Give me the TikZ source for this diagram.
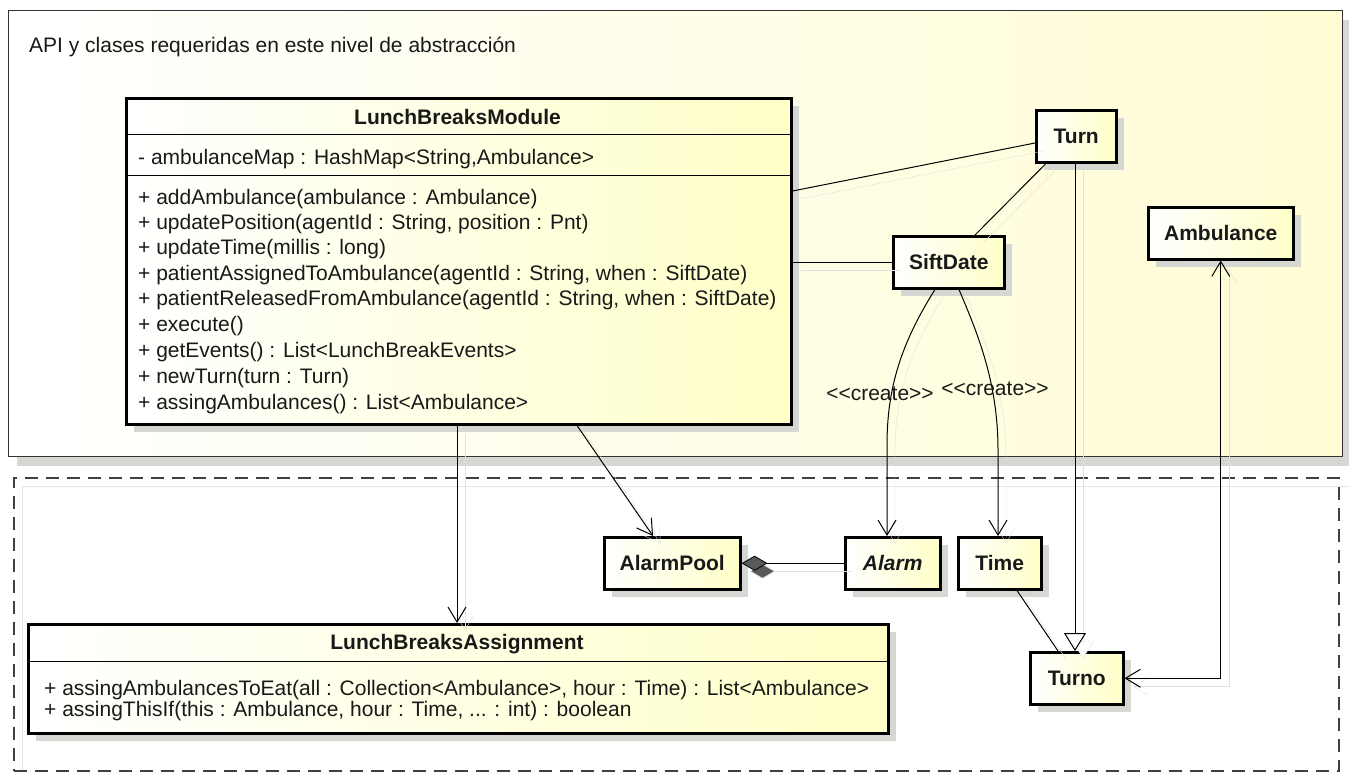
\documentclass[tikz,border=0pt]{standalone}
\usepackage{fontspec}
\setmainfont{Liberation Sans}
\usetikzlibrary{arrows.meta,shadows}
\definecolor{cream}{RGB}{255,255,200}
\definecolor{pkgcream}{RGB}{255,253,212}
\definecolor{txt}{RGB}{25,25,25}
\definecolor{shd}{RGB}{214,214,210}
\newcommand{\lgl}{<\kern0pt<}
\newcommand{\rgr}{>\kern0pt>}
\begin{document}
\begin{tikzpicture}[x=1pt,y=-1pt,
  every node/.style={font=\fontsize{21}{24}\selectfont, text=txt},
  classbox/.style={draw=black, line width=2.5pt, left color=white, right color=cream,
    general shadow={fill=shd, shadow xshift=8pt, shadow yshift=-8pt},
    anchor=north west, inner sep=0pt, font=\fontsize{21}{24}\selectfont\bfseries},
  ctitle/.style={inner sep=0pt, font=\fontsize{21}{24}\selectfont\bfseries},
  member/.style={anchor=base west, inner sep=0pt},
  conn/.style={draw=black, line width=1pt,
    preaction={draw=black!12, transform canvas={shift={(8pt,-8pt)}}}},
  nav/.style={-{Straight Barb[length=15pt,width=18pt,line width=1pt]}},
]
\useasboundingbox (0,0) rectangle (1349,771);
% package
\node[draw=black!80, line width=1.3pt, left color=white, right color=pkgcream,
  general shadow={fill=shd, shadow xshift=8pt, shadow yshift=-9pt},
  anchor=north west, minimum width=1334pt, minimum height=446pt, inner sep=0pt] (pkg) at (8,10) {};
\node[anchor=west, inner sep=0pt] (pkgT) at (29,47) {API y clases requeridas en este nivel de abstracción};
% lower frame
\draw[black!10, line width=1pt] (22,486) -- (1349,486);
\draw[black!10, line width=1pt] (22,486) -- (22,771);
\node[draw=black!75, dash pattern=on 13pt off 8pt, line width=1.5pt, anchor=north west,
  minimum width=1325pt, minimum height=293pt, inner sep=0pt] (lower) at (13,477) {};

% LunchBreaksModule
\node[classbox, minimum width=665pt, minimum height=326pt] (lbm) at (125,97) {};
\draw[line width=1pt] (lbm.west |- 0,134) -- (lbm.east |- 0,134);
\draw[line width=1pt] (lbm.west |- 0,175) -- (lbm.east |- 0,175);
\node[ctitle] (lbmT) at (457.5,117) {LunchBreaksModule};
\node[member] (lbmA) at (138,164) {- ambulanceMap : HashMap<String,Ambulance>};
\node[member] (m1) at (138,204) {+ addAmbulance(ambulance : Ambulance)};
\node[member] (m2) at (138,229) {+ updatePosition(agentId : String, position : Pnt)};
\node[member] (m3) at (138,254) {+ updateTime(millis : long)};
\node[member] (m4) at (138,280) {+ patientAssignedToAmbulance(agentId : String, when : SiftDate)};
\node[member] (m5) at (138,305) {+ patientReleasedFromAmbulance(agentId : String, when : SiftDate)};
\node[member] (m6) at (138,331) {+ execute()};
\node[member] (m7) at (138,357) {+ getEvents() : List<LunchBreakEvents>};
\node[member] (m8) at (138,383) {+ newTurn(turn : Turn)};
\node[member] (m9) at (138,409) {+ assingAmbulances() : List<Ambulance>};

% simple classes
\node[classbox, minimum width=80pt, minimum height=52pt] (turn) at (1035,109) {Turn};
\node[classbox, minimum width=111pt, minimum height=52pt] (sift) at (892,235) {SiftDate};
\node[classbox, minimum width=145pt, minimum height=52pt] (amb) at (1147,206) {Ambulance};
\node[classbox, minimum width=136pt, minimum height=52pt] (apool) at (603,536) {AlarmPool};
\node[classbox, minimum width=95pt, minimum height=52pt, font=\fontsize{21}{24}\selectfont\bfseries\itshape] (alarm) at (844,536) {Alarm};
\node[classbox, minimum width=83pt, minimum height=52pt] (time) at (957,536) {Time};
\node[classbox, minimum width=93pt, minimum height=52pt] (turno) at (1029,651) {Turno};

% LunchBreaksAssignment
\node[classbox, minimum width=860pt, minimum height=109pt] (lba) at (27,623) {};
\draw[line width=1pt] (lba.west |- 0,661) -- (lba.east |- 0,661);
\node[ctitle] (lbaT) at (457,644) {LunchBreaksAssignment};
\node[member] (a1) at (44,695) {+ assingAmbulancesToEat(all : Collection<Ambulance>, hour : Time) : List<Ambulance>};
\node[member] (a2) at (44,716) {+ assingThisIf(this : Ambulance, hour : Time, ... : int) : boolean};

% connectors
\draw[conn] (lbm.east |- 0,191) -- (turn.west |- 0,143);
\draw[conn] (turn.south -| 1046,0) -- (sift.north -| 975,0);
\draw[conn] (lbm.east |- sift.west) -- (sift.west);
\draw[conn, nav] (sift.south -| 935,0) .. controls (900,345) and (887,390) .. (887,445) -- (alarm.north -| 887,0);
\draw[conn, nav] (sift.south -| 959,0) .. controls (976,330) and (998,380) .. (998,450) -- (time.north -| 998,0);
\node (cr1) at (880,394) {\lgl create\rgr};
\node (cr2) at (995,389) {\lgl create\rgr};
\draw[conn, nav] (lbm.south -| 577,0) -- (apool.north -| 653,0);
\draw[conn, nav] (lbm.south -| 457,0) -- (lba.north -| 457,0);
\draw[conn, {Diamond[length=26pt,width=15pt,fill=black!65,line width=0.8pt]}-] (apool.east) -- (alarm.west);
\draw[conn, -{Triangle[open,length=18pt,width=22pt,line width=1pt,fill=white]}] (turn.south -| 1075,0) -- (turno.north -| 1075,0);
\draw[conn] (time.south -| 1017,0) -- (turno.north -| 1058,0);
\draw[conn, {Straight Barb[length=15pt,width=18pt,line width=1pt]}-{Straight Barb[length=15pt,width=18pt,line width=1pt]}] (amb.south) |- (turno.east);
\end{tikzpicture}
\end{document}
